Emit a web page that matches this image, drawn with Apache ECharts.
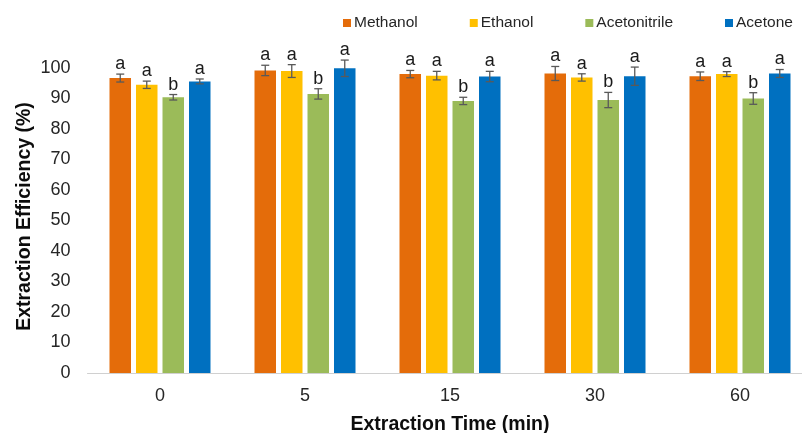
<!DOCTYPE html>
<html lang="en">
<head>
<meta charset="UTF-8">
<title>Extraction Efficiency</title>
<script src="https://cdn.jsdelivr.net/npm/echarts@6/dist/echarts.min.js"></script>
<style>
  html, body { margin: 0; padding: 0; background: #fff; }
  #chart { width: 802px; height: 433px; }
</style>
</head>
<body>
<div id="chart"></div>
<script>
// extraction time categories (min)
var times = ['0', '5', '15', '30', '60'];
var solvents = ['Methanol', 'Ethanol', 'Acetonitrile', 'Acetone'];
var colors = ['#E46C0A', '#FFC000', '#9BBB59', '#0070C0'];

// mean extraction efficiency (%) per solvent
var methanol     = [96.7, 99.2, 98.0, 98.2, 97.3];
var ethanol      = [94.5, 99.0, 97.5, 96.9, 98.0];
var acetonitrile = [90.4, 91.5, 89.2, 89.5, 90.0];
var acetone      = [95.6, 99.9, 97.2, 97.3, 98.2];

// standard deviations
var methanolErr     = [1.3, 1.7, 1.2, 2.3, 1.4];
var ethanolErr      = [1.2, 2.1, 1.4, 1.2, 0.8];
var acetonitrileErr = [0.9, 1.7, 1.2, 2.5, 1.9];
var acetoneErr      = [0.8, 2.7, 1.7, 3.0, 1.3];

// significance letters
var methanolSig     = ['a', 'a', 'a', 'a', 'a'];
var ethanolSig      = ['a', 'a', 'a', 'a', 'a'];
var acetonitrileSig = ['b', 'b', 'b', 'b', 'b'];
var acetoneSig      = ['a', 'a', 'a', 'a', 'a'];

var means = [methanol, ethanol, acetonitrile, acetone];
var errs = [methanolErr, ethanolErr, acetonitrileErr, acetoneErr];
var sigs = [methanolSig, ethanolSig, acetonitrileSig, acetoneSig];

var BAR_W = 21.5, BAR_GAP = 5;
var FONT = '"Liberation Sans", Arial, sans-serif';

var chart = echarts.init(document.getElementById('chart'));

var series = [];
solvents.forEach(function (name, s) {
  series.push({
    name: name,
    type: 'bar',
    data: means[s],
    barWidth: BAR_W,
    barGap: (BAR_GAP / BAR_W * 100) + '%',
    itemStyle: { color: colors[s] },
    z: 2
  });
});

// error bars + letters, one custom series per solvent
solvents.forEach(function (name, s) {
  var data = times.map(function (t, i) {
    return [i, means[s][i], errs[s][i], sigs[s][i]];
  });
  series.push({
    type: 'custom',
    silent: true,
    z: 5,
    data: data,
    encode: { x: 0, y: [1] },
    renderItem: function (params, api) {
      var i = api.value(0), m = api.value(1), e = api.value(2);
      var letter = data[params.dataIndex][3];
      var groupW = solvents.length * BAR_W + (solvents.length - 1) * BAR_GAP;
      var c = api.coord([i, m]);
      var x = c[0] - groupW / 2 + s * (BAR_W + BAR_GAP) + BAR_W / 2;
      var yHi = api.coord([i, m + e])[1];
      var yLo = api.coord([i, m - e])[1];
      var cap = 4;
      var st = { stroke: '#595959', lineWidth: 1.3 };
      return {
        type: 'group',
        children: [
          { type: 'line', shape: { x1: x, y1: yHi, x2: x, y2: yLo }, style: st },
          { type: 'line', shape: { x1: x - cap, y1: yHi, x2: x + cap, y2: yHi }, style: st },
          { type: 'line', shape: { x1: x - cap, y1: yLo, x2: x + cap, y2: yLo }, style: st },
          {
            type: 'text',
            x: x, y: yHi - 1,
            style: {
              text: letter,
              fill: '#1a1a1a',
              font: '18px ' + FONT,
              align: 'center',
              verticalAlign: 'bottom'
            }
          }
        ]
      };
    }
  });
});

var option = {
  animation: false,
  textStyle: { fontFamily: FONT },
  legend: {
    data: solvents,
    top: 10,
    left: 338,
    itemWidth: 8,
    itemHeight: 8,
    itemGap: 52,
    icon: 'rect',
    textStyle: { fontSize: 15.5, color: '#262626', padding: [0, 0, 0, -2] }
  },
  grid: { left: 87.5, width: 725, top: 68, bottom: 60, outerBoundsMode: 'none' },
  xAxis: {
    type: 'category',
    data: times,
    name: 'Extraction Time (min)',
    nameLocation: 'middle',
    nameGap: 42,
    nameMoveOverlap: false,
    nameTextStyle: { fontSize: 19.5, fontWeight: 'bold', color: '#0d0d0d' },
    axisTick: { show: false },
    axisLine: { lineStyle: { color: '#d0d0d0' } },
    axisLabel: { fontSize: 18, color: '#262626', margin: 14 }
  },
  yAxis: {
    type: 'value',
    min: 0,
    max: 100,
    interval: 10,
    name: 'Extraction Efficiency (%)',
    nameLocation: 'middle',
    nameGap: 53,
    nameMoveOverlap: false,
    nameTextStyle: { fontSize: 19.5, fontWeight: 'bold', color: '#0d0d0d', padding: [0, 0, 0, 8] },
    axisLine: { show: false },
    axisTick: { show: false },
    splitLine: { show: false },
    axisLabel: { fontSize: 18, color: '#262626', margin: 17 }
  },
  series: series
};

chart.setOption(option);
</script>
</body>
</html>
